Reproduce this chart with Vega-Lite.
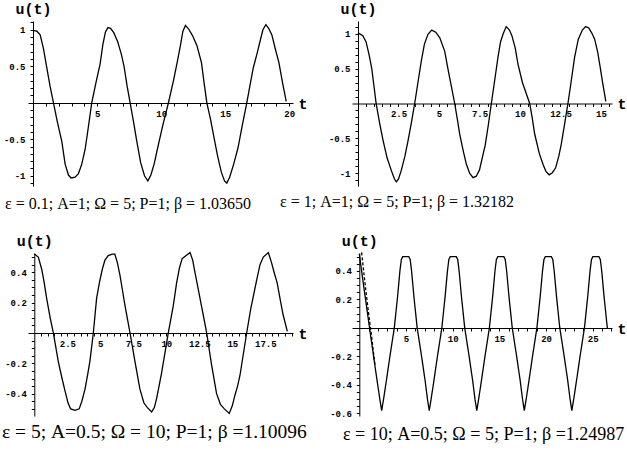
{
 "$schema": "https://vega.github.io/schema/vega-lite/v6.json",
 "padding": {"left": 2, "top": 1, "right": 0, "bottom": 0},
 "background": "white",
 "columns": 2,
 "spacing": {"row": 67, "column": 59},
 "bounds": "flush",
 "config": {
  "view": {"stroke": null},
  "axis": {"labelFont": "Liberation Mono", "labelFontSize": 9, "labelFontWeight": "bold", "labelColor": "black", "domainColor": "black", "tickColor": "black", "tickSize": 3, "grid": false, "labelOverlap": false, "labelFlush": false, "titleFont": "Liberation Mono", "titleFontSize": 15, "titleFontWeight": "bold", "titleColor": "black", "titleAngle": 0, "titlePadding": 0},
  "axisX": {"titleAlign": "left", "titleBaseline": "middle", "labelPadding": 3},
  "axisY": {"titleAlign": "center", "titleBaseline": "alphabetic", "labelPadding": 5},
  "title": {"font": "Liberation Serif", "fontWeight": "normal", "color": "black", "orient": "bottom", "anchor": "start", "frame": "group"}
 },
 "concat": [
  {
   "width": 265, "height": 165,
   "title": {"text": "ε = 0.1; A=1; Ω = 5; P=1; β = 1.03650", "dx": -23, "fontSize": 16, "offset": 8},
   "data": {"values": [
    {"t":0,"u":0.99},{"t":0.3,"u":0.98},{"t":0.55,"u":0.93},{"t":0.8,"u":0.75},{"t":1.05,"u":0.5},{"t":1.33,"u":0.22},{"t":1.59,"u":0},{"t":1.9,"u":-0.27},{"t":2.24,"u":-0.53},{"t":2.5,"u":-0.84},{"t":2.76,"u":-0.99},{"t":2.97,"u":-1.03},{"t":3.28,"u":-1.02},{"t":3.54,"u":-0.97},{"t":3.8,"u":-0.84},{"t":4.06,"u":-0.64},{"t":4.3,"u":-0.35},{"t":4.58,"u":0},{"t":4.9,"u":0.27},{"t":5.23,"u":0.53},{"t":5.45,"u":0.8},{"t":5.65,"u":0.97},{"t":5.85,"u":1.03},{"t":6.05,"u":1.02},{"t":6.3,"u":0.96},{"t":6.6,"u":0.84},{"t":6.9,"u":0.66},{"t":7.1,"u":0.5},{"t":7.35,"u":0.22},{"t":7.58,"u":0},{"t":7.85,"u":-0.27},{"t":8.1,"u":-0.53},{"t":8.4,"u":-0.82},{"t":8.7,"u":-1.0},{"t":8.96,"u":-1.07},{"t":9.2,"u":-0.99},{"t":9.45,"u":-0.84},{"t":9.7,"u":-0.64},{"t":10.1,"u":-0.33},{"t":10.57,"u":0},{"t":10.96,"u":0.3},{"t":11.25,"u":0.55},{"t":11.5,"u":0.78},{"t":11.7,"u":0.98},{"t":11.9,"u":1.06},{"t":12.15,"u":1.01},{"t":12.45,"u":0.92},{"t":12.8,"u":0.78},{"t":13.15,"u":0.55},{"t":13.35,"u":0.28},{"t":13.57,"u":0},{"t":13.85,"u":-0.22},{"t":14.1,"u":-0.45},{"t":14.4,"u":-0.72},{"t":14.7,"u":-0.95},{"t":14.95,"u":-1.07},{"t":15.13,"u":-1.1},{"t":15.35,"u":-1.02},{"t":15.65,"u":-0.85},{"t":16.0,"u":-0.62},{"t":16.35,"u":-0.3},{"t":16.69,"u":0},{"t":16.95,"u":0.25},{"t":17.2,"u":0.48},{"t":17.5,"u":0.68},{"t":17.75,"u":0.86},{"t":17.95,"u":1.0},{"t":18.18,"u":1.07},{"t":18.4,"u":1.02},{"t":18.65,"u":0.93},{"t":18.9,"u":0.75},{"t":19.2,"u":0.55},{"t":19.5,"u":0.26},{"t":19.77,"u":0.02}
   ]},
   "mark": {"type": "line", "color": "black", "strokeWidth": 1.3},
   "encoding": {
    "x": {"field": "t", "type": "quantitative", "scale": {"domain": [-0.4, 20.3], "nice": false, "zero": false},
     "axis": {"offset": -83, "title": "t", "titleX": 270, "titleY": 0,
      "values": [1,2,3,4,5,6,7,8,9,10,11,12,13,14,15,16,17,18,19,20],
      "labelExpr": "indexof([5,10,15,20], datum.value) >= 0 ? '' + datum.value : ''"}},
    "y": {"field": "u", "type": "quantitative", "scale": {"domain": [-1.14, 1.12], "nice": false, "zero": false},
     "axis": {"offset": -5, "title": "u(t)", "titleX": 0, "titleY": -8,
      "values": [-1.1,-1,-0.9,-0.8,-0.7,-0.6,-0.5,-0.4,-0.3,-0.2,-0.1,0.1,0.2,0.3,0.4,0.5,0.6,0.7,0.8,0.9,1,1.1],
      "labelExpr": "indexof([-1,-0.5,0.5,1], datum.value) >= 0 ? '' + datum.value : ''"}}
   }
  },
  {
   "width": 260, "height": 165,
   "title": {"text": "ε = 1; A=1; Ω = 5; P=1; β = 1.32182", "dx": -72, "fontSize": 16, "offset": 8},
   "data": {"values": [
    {"t":0,"u":1.01},{"t":0.3,"u":0.97},{"t":0.5,"u":0.88},{"t":0.7,"u":0.68},{"t":0.85,"u":0.5},{"t":1.12,"u":0},{"t":1.35,"u":-0.3},{"t":1.55,"u":-0.53},{"t":1.8,"u":-0.78},{"t":2.06,"u":-0.96},{"t":2.25,"u":-1.08},{"t":2.37,"u":-1.12},{"t":2.5,"u":-1.08},{"t":2.67,"u":-0.96},{"t":2.9,"u":-0.75},{"t":3.09,"u":-0.53},{"t":3.3,"u":-0.27},{"t":3.5,"u":0},{"t":3.7,"u":0.3},{"t":3.91,"u":0.61},{"t":4.1,"u":0.85},{"t":4.32,"u":0.99},{"t":4.55,"u":1.05},{"t":4.8,"u":1.02},{"t":5.05,"u":0.94},{"t":5.35,"u":0.75},{"t":5.55,"u":0.5},{"t":5.7,"u":0.32},{"t":5.97,"u":0},{"t":6.15,"u":-0.25},{"t":6.28,"u":-0.44},{"t":6.5,"u":-0.68},{"t":6.69,"u":-0.87},{"t":6.9,"u":-1.0},{"t":7.1,"u":-1.06},{"t":7.3,"u":-1.04},{"t":7.5,"u":-0.95},{"t":7.7,"u":-0.75},{"t":7.85,"u":-0.6},{"t":8.05,"u":-0.3},{"t":8.23,"u":0},{"t":8.45,"u":0.35},{"t":8.64,"u":0.66},{"t":8.8,"u":0.88},{"t":8.95,"u":0.99},{"t":9.15,"u":1.1},{"t":9.35,"u":1.05},{"t":9.5,"u":0.97},{"t":9.7,"u":0.8},{"t":9.88,"u":0.56},{"t":10.15,"u":0.3},{"t":10.6,"u":0},{"t":10.75,"u":-0.2},{"t":10.91,"u":-0.44},{"t":11.2,"u":-0.72},{"t":11.42,"u":-0.87},{"t":11.6,"u":-0.97},{"t":11.8,"u":-1.02},{"t":12.0,"u":-0.99},{"t":12.2,"u":-0.92},{"t":12.4,"u":-0.75},{"t":12.55,"u":-0.58},{"t":12.75,"u":-0.3},{"t":12.96,"u":0},{"t":13.15,"u":0.3},{"t":13.37,"u":0.66},{"t":13.6,"u":0.92},{"t":13.85,"u":1.05},{"t":14.05,"u":1.1},{"t":14.25,"u":1.08},{"t":14.45,"u":1.0},{"t":14.61,"u":0.92},{"t":14.8,"u":0.73},{"t":14.95,"u":0.52},{"t":15.1,"u":0.3},{"t":15.3,"u":0.03}
   ]},
   "mark": {"type": "line", "color": "black", "strokeWidth": 1.3},
   "encoding": {
    "x": {"field": "t", "type": "quantitative", "scale": {"domain": [-0.37, 15.68], "nice": false, "zero": false},
     "axis": {"offset": -82.5, "title": "t", "titleX": 265, "titleY": 0,
      "values": [0.5,1,1.5,2,2.5,3,3.5,4,4.5,5,5.5,6,6.5,7,7.5,8,8.5,9,9.5,10,10.5,11,11.5,12,12.5,13,13.5,14,14.5,15,15.5],
      "labelExpr": "indexof([2.5,5,7.5,10,12.5,15], datum.value) >= 0 ? '' + datum.value : ''"}},
    "y": {"field": "u", "type": "quantitative", "scale": {"domain": [-1.18, 1.18], "nice": false, "zero": false},
     "axis": {"offset": -6, "title": "u(t)", "titleX": 0, "titleY": -8,
      "values": [-1.1,-1,-0.9,-0.8,-0.7,-0.6,-0.5,-0.4,-0.3,-0.2,-0.1,0.1,0.2,0.3,0.4,0.5,0.6,0.7,0.8,0.9,1,1.1],
      "labelExpr": "indexof([-1,-0.5,0.5,1], datum.value) >= 0 ? '' + datum.value : ''"}}
   }
  },
  {
   "width": 265, "height": 163,
   "title": {"text": "ε = 5; A=0.5; Ω = 10; P=1; β =1.10096", "dx": -26, "fontSize": 19.5, "offset": 7},
   "data": {"values": [
    {"t":0,"u":0.52},{"t":0.3,"u":0.5},{"t":0.56,"u":0.42},{"t":0.75,"u":0.33},{"t":0.93,"u":0.23},{"t":1.2,"u":0.1},{"t":1.44,"u":0},{"t":1.82,"u":-0.19},{"t":2.1,"u":-0.3},{"t":2.32,"u":-0.38},{"t":2.55,"u":-0.46},{"t":2.75,"u":-0.5},{"t":3.08,"u":-0.51},{"t":3.4,"u":-0.5},{"t":3.6,"u":-0.45},{"t":3.84,"u":-0.37},{"t":4.05,"u":-0.27},{"t":4.22,"u":-0.18},{"t":4.47,"u":0},{"t":4.72,"u":0.23},{"t":4.95,"u":0.34},{"t":5.15,"u":0.42},{"t":5.35,"u":0.48},{"t":5.6,"u":0.51},{"t":5.9,"u":0.52},{"t":6.1,"u":0.52},{"t":6.3,"u":0.46},{"t":6.49,"u":0.38},{"t":6.7,"u":0.27},{"t":6.87,"u":0.18},{"t":7.25,"u":0},{"t":7.63,"u":-0.19},{"t":8.0,"u":-0.37},{"t":8.3,"u":-0.46},{"t":8.55,"u":-0.49},{"t":8.89,"u":-0.52},{"t":9.1,"u":-0.49},{"t":9.27,"u":-0.43},{"t":9.45,"u":-0.35},{"t":9.65,"u":-0.26},{"t":10.15,"u":0},{"t":10.53,"u":0.18},{"t":10.78,"u":0.33},{"t":11.0,"u":0.43},{"t":11.2,"u":0.49},{"t":11.5,"u":0.51},{"t":11.8,"u":0.53},{"t":12.0,"u":0.48},{"t":12.17,"u":0.4},{"t":12.35,"u":0.32},{"t":12.55,"u":0.23},{"t":13.06,"u":0},{"t":13.43,"u":-0.21},{"t":13.81,"u":-0.4},{"t":14.1,"u":-0.47},{"t":14.4,"u":-0.5},{"t":14.77,"u":-0.53},{"t":15.0,"u":-0.48},{"t":15.2,"u":-0.41},{"t":15.4,"u":-0.35},{"t":15.58,"u":-0.28},{"t":16.09,"u":0},{"t":16.4,"u":0.16},{"t":16.59,"u":0.24},{"t":16.85,"u":0.35},{"t":17.1,"u":0.45},{"t":17.35,"u":0.5},{"t":17.73,"u":0.53},{"t":17.95,"u":0.47},{"t":18.2,"u":0.39},{"t":18.4,"u":0.33},{"t":18.61,"u":0.23},{"t":18.85,"u":0.12},{"t":19.17,"u":0.01}
   ]},
   "mark": {"type": "line", "color": "black", "strokeWidth": 1.3},
   "encoding": {
    "x": {"field": "t", "type": "quantitative", "scale": {"domain": [-0.48, 19.6], "nice": false, "zero": false},
     "axis": {"offset": -83, "title": "t", "titleX": 270, "titleY": 0,
      "values": [0.5,1,1.5,2,2.5,3,3.5,4,4.5,5,5.5,6,6.5,7,7.5,8,8.5,9,9.5,10,10.5,11,11.5,12,12.5,13,13.5,14,14.5,15,15.5,16,16.5,17,17.5,18,18.5,19,19.5],
      "labelExpr": "indexof([2.5,5,7.5,10,12.5,15,17.5], datum.value) >= 0 ? '' + datum.value : ''"}},
    "y": {"field": "u", "type": "quantitative", "scale": {"domain": [-0.547, 0.527], "nice": false, "zero": false},
     "axis": {"offset": -6.3, "title": "u(t)", "titleX": 0, "titleY": -8,
      "values": [-0.5,-0.45,-0.4,-0.35,-0.3,-0.25,-0.2,-0.15,-0.1,-0.05,0.05,0.1,0.15,0.2,0.25,0.3,0.35,0.4,0.45,0.5],
      "labelExpr": "indexof([-0.4,-0.2,0.2,0.4], datum.value) >= 0 ? '' + datum.value : ''"}}
   }
  },
  {
   "width": 260, "height": 163,
   "title": {"text": "ε = 10; A=0.5; Ω = 5; P=1; β =1.24987", "dx": -9, "fontSize": 18, "offset": 8},
   "data": {"values": [
    {"t":0,"u":0.52,"s":"a"},{"t":0.5,"u":0.28,"s":"a"},{"t":1.1,"u":0,"s":"a"},{"t":1.75,"u":-0.3,"s":"a"},{"t":2.2,"u":-0.5,"s":"a"},{"t":2.4,"u":-0.58,"s":"a"},
    {"t":2.6,"u":-0.5,"s":"a"},{"t":2.9,"u":-0.37,"s":"a"},{"t":3.3,"u":-0.19,"s":"a"},{"t":3.75,"u":0,"s":"a"},{"t":4.1,"u":0.22,"s":"a"},{"t":4.35,"u":0.4,"s":"a"},{"t":4.5,"u":0.48,"s":"a"},{"t":4.65,"u":0.5,"s":"a"},{"t":5.3,"u":0.5,"s":"a"},{"t":5.45,"u":0.48,"s":"a"},{"t":5.6,"u":0.4,"s":"a"},{"t":5.85,"u":0.22,"s":"a"},{"t":6.2,"u":0,"s":"a"},{"t":6.65,"u":-0.19,"s":"a"},{"t":7.05,"u":-0.37,"s":"a"},{"t":7.3,"u":-0.5,"s":"a"},
    {"t":7.49,"u":-0.58,"s":"a"},{"t":7.69,"u":-0.5,"s":"a"},{"t":7.99,"u":-0.37,"s":"a"},{"t":8.39,"u":-0.19,"s":"a"},{"t":8.84,"u":0,"s":"a"},{"t":9.19,"u":0.22,"s":"a"},{"t":9.44,"u":0.4,"s":"a"},{"t":9.59,"u":0.48,"s":"a"},{"t":9.74,"u":0.5,"s":"a"},{"t":10.39,"u":0.5,"s":"a"},{"t":10.54,"u":0.48,"s":"a"},{"t":10.69,"u":0.4,"s":"a"},{"t":10.94,"u":0.22,"s":"a"},{"t":11.29,"u":0,"s":"a"},{"t":11.74,"u":-0.19,"s":"a"},{"t":12.14,"u":-0.37,"s":"a"},{"t":12.39,"u":-0.5,"s":"a"},
    {"t":12.58,"u":-0.58,"s":"a"},{"t":12.78,"u":-0.5,"s":"a"},{"t":13.08,"u":-0.37,"s":"a"},{"t":13.48,"u":-0.19,"s":"a"},{"t":13.93,"u":0,"s":"a"},{"t":14.28,"u":0.22,"s":"a"},{"t":14.53,"u":0.4,"s":"a"},{"t":14.68,"u":0.48,"s":"a"},{"t":14.83,"u":0.5,"s":"a"},{"t":15.48,"u":0.5,"s":"a"},{"t":15.63,"u":0.48,"s":"a"},{"t":15.78,"u":0.4,"s":"a"},{"t":16.03,"u":0.22,"s":"a"},{"t":16.38,"u":0,"s":"a"},{"t":16.83,"u":-0.19,"s":"a"},{"t":17.23,"u":-0.37,"s":"a"},{"t":17.48,"u":-0.5,"s":"a"},
    {"t":17.67,"u":-0.58,"s":"a"},{"t":17.87,"u":-0.5,"s":"a"},{"t":18.17,"u":-0.37,"s":"a"},{"t":18.57,"u":-0.19,"s":"a"},{"t":19.02,"u":0,"s":"a"},{"t":19.37,"u":0.22,"s":"a"},{"t":19.62,"u":0.4,"s":"a"},{"t":19.77,"u":0.48,"s":"a"},{"t":19.92,"u":0.5,"s":"a"},{"t":20.57,"u":0.5,"s":"a"},{"t":20.72,"u":0.48,"s":"a"},{"t":20.87,"u":0.4,"s":"a"},{"t":21.12,"u":0.22,"s":"a"},{"t":21.47,"u":0,"s":"a"},{"t":21.92,"u":-0.19,"s":"a"},{"t":22.32,"u":-0.37,"s":"a"},{"t":22.57,"u":-0.5,"s":"a"},
    {"t":22.76,"u":-0.58,"s":"a"},{"t":22.96,"u":-0.5,"s":"a"},{"t":23.26,"u":-0.37,"s":"a"},{"t":23.66,"u":-0.19,"s":"a"},{"t":24.11,"u":0,"s":"a"},{"t":24.46,"u":0.22,"s":"a"},{"t":24.71,"u":0.4,"s":"a"},{"t":24.86,"u":0.48,"s":"a"},{"t":25.01,"u":0.5,"s":"a"},{"t":25.66,"u":0.5,"s":"a"},{"t":25.81,"u":0.48,"s":"a"},{"t":25.96,"u":0.4,"s":"a"},{"t":26.21,"u":0.22,"s":"a"},{"t":26.56,"u":0,"s":"a"},
    {"t":0.25,"u":0.53,"s":"b"},{"t":0.6,"u":0.32,"s":"b"},{"t":1.0,"u":0.1,"s":"b"},{"t":1.3,"u":-0.05,"s":"b"},{"t":1.7,"u":-0.27,"s":"b"}
   ]},
   "mark": {"type": "line", "color": "black", "strokeWidth": 1.3},
   "encoding": {
    "x": {"field": "t", "type": "quantitative", "scale": {"domain": [-0.78, 27.06], "nice": false, "zero": false},
     "axis": {"offset": -88, "title": "t", "titleX": 265, "titleY": 0,
      "values": [1,2,3,4,5,6,7,8,9,10,11,12,13,14,15,16,17,18,19,20,21,22,23,24,25,26,27],
      "labelExpr": "indexof([5,10,15,20,25], datum.value) >= 0 ? '' + datum.value : ''"}},
    "y": {"field": "u", "type": "quantitative", "scale": {"domain": [-0.618, 0.526], "nice": false, "zero": false},
     "axis": {"offset": -7.3, "title": "u(t)", "titleX": 0, "titleY": -8,
      "values": [-0.6,-0.55,-0.5,-0.45,-0.4,-0.35,-0.3,-0.25,-0.2,-0.15,-0.1,-0.05,0.05,0.1,0.15,0.2,0.25,0.3,0.35,0.4,0.45,0.5],
      "labelExpr": "indexof([-0.6,-0.4,-0.2,0.2,0.4], datum.value) >= 0 ? '' + datum.value : ''"}},
    "strokeDash": {"field": "s", "type": "nominal", "scale": {"domain": ["a", "b"], "range": [[1, 0], [3, 2]]}, "legend": null}
   }
  }
 ]
}
